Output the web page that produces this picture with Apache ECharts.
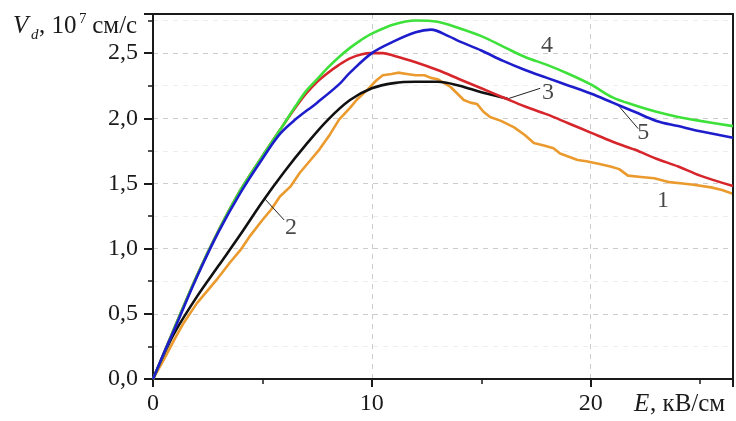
<!DOCTYPE html>
<html>
<head>
<meta charset="utf-8">
<script src="https://cdn.jsdelivr.net/npm/echarts@6/dist/echarts.min.js"></script>
<style>
html,body{margin:0;padding:0;background:#fff;}
#c{width:736px;height:421px;}
</style>
</head>
<body>
<div id="c"></div>
<script>
// ---- data (E in kV/cm, Vd in 1e7 cm/s) ----
const curve1 = [[0,0],[0.5,0.15],[1,0.31],[1.4,0.43],[2,0.58],[2.5,0.68],[2.9,0.76],[3.5,0.89],[4,0.99],[4.4,1.09],[5,1.22],[5.4,1.30],[5.8,1.40],[6.3,1.48],[6.7,1.58],[7.2,1.68],[7.6,1.76],[8.1,1.88],[8.5,1.99],[9,2.08],[9.3,2.14],[9.8,2.22],[10.2,2.29],[10.5,2.33],[10.9,2.34],[11.2,2.35],[11.6,2.34],[12,2.33],[12.4,2.33],[12.7,2.31],[13,2.30],[13.6,2.24],[14.2,2.14],[14.5,2.12],[14.8,2.11],[15.1,2.05],[15.4,2.01],[15.9,1.98],[16.5,1.93],[17,1.87],[17.4,1.81],[17.9,1.79],[18.3,1.77],[18.6,1.73],[19.4,1.68],[19.8,1.67],[20.4,1.65],[20.9,1.63],[21.3,1.61],[21.7,1.56],[22.3,1.55],[22.9,1.54],[23.6,1.51],[24.2,1.50],[24.7,1.49],[25.5,1.47],[26,1.45],[26.5,1.42]];
const curve2 = [[0,0],[0.5,0.19],[1,0.36],[2,0.63],[3,0.87],[4,1.11],[5,1.36],[6,1.59],[7,1.80],[8,1.99],[9,2.14],[10,2.23],[11,2.27],[12,2.28],[13,2.28],[14,2.25],[15,2.20],[16.2,2.15]];
const curve3 = [[0,0],[0.5,0.2],[1,0.40],[2,0.79],[3,1.14],[4,1.45],[5,1.71],[5.8,1.91],[6.5,2.08],[7,2.19],[7.5,2.28],[8,2.35],[8.5,2.41],[9,2.46],[9.5,2.49],[10,2.50],[10.5,2.50],[11,2.48],[12,2.43],[13,2.37],[14,2.30],[15,2.23],[16,2.16],[17,2.09],[18,2.03],[19,1.96],[20,1.89],[21,1.82],[22,1.76],[23,1.69],[24,1.63],[25,1.56],[26.5,1.48]];
const curve4 = [[0,0],[0.5,0.2],[1,0.40],[2,0.79],[3,1.14],[4,1.45],[5,1.71],[5.8,1.91],[6.5,2.09],[7,2.21],[7.5,2.30],[8,2.39],[8.5,2.47],[9,2.54],[9.5,2.60],[10,2.65],[11,2.72],[12,2.75],[13,2.74],[14,2.69],[15,2.63],[16,2.55],[17,2.47],[18,2.41],[19,2.34],[20,2.26],[21,2.16],[22,2.10],[23,2.05],[24,2.01],[25,1.98],[26.5,1.94]];
const curve5 = [[0,0],[0.5,0.2],[1,0.39],[2,0.78],[3,1.13],[4,1.43],[5,1.69],[5.8,1.88],[6.5,1.99],[7.5,2.12],[8.5,2.26],[9,2.35],[10,2.50],[11,2.59],[12,2.66],[12.7,2.68],[13.5,2.63],[14,2.59],[15,2.52],[16,2.44],[17,2.37],[18,2.31],[19,2.25],[20,2.19],[21,2.12],[22,2.05],[23,1.98],[24,1.94],[25,1.90],[26.5,1.85]];

const seriesNames = ['1','2','3','4','5'];
const seriesColors = ['#eb9a2e','#111111','#d6262c','#3ee03a','#1d1dcc'];

// curve number labels [E, V] and leader lines
const labelPos = {'1':[23.3,1.37],'2':[6.3,1.16],'3':[18.05,2.20],'4':[18.0,2.56],'5':[22.4,1.89]};
const leaders = [[[5.12,1.38],[5.99,1.22]],[[16.22,2.15],[17.69,2.23]],[[21.25,2.10],[22.17,1.92]]];

const xMin = 0, xMax = 26.5, xMajor = 10, xMinor = 5;
const yMin = 0, yMax = 2.8, yMajor = 0.5, yMinor = 0.25;

const FONT = '"Liberation Serif","DejaVu Serif",serif';

const chart = echarts.init(document.getElementById('c'), null, {renderer:'canvas'});

const curves = [curve1, curve2, curve3, curve4, curve5];

const series = curves.map((c, i) => ({
  type:'line',
  name: seriesNames[i],
  data: c,
  xAxisIndex:0, yAxisIndex:0,
  showSymbol:false,
  smooth: i === 0 ? false : 0.35,
  lineStyle:{color:seriesColors[i], width:2.6},
  z: 3 + i,
  silent:true
}));

// annotation series
series.push({
  type:'scatter',
  xAxisIndex:0, yAxisIndex:0,
  data: Object.keys(labelPos).map(k => ({value:labelPos[k], name:k})),
  symbolSize:0,
  label:{show:true, position:'inside', formatter: p => p.name,
    fontFamily:FONT, fontSize:24, color:'#1a1a1a'},
  z:10, silent:true
});
series.push({
  type:'line',
  xAxisIndex:0, yAxisIndex:0,
  data:[],
  markLine:{
    silent:true, symbol:['none','none'], animation:false,
    lineStyle:{color:'#222', width:1, type:'solid'},
    label:{show:false},
    data: leaders.map(l => [{coord:l[0]},{coord:l[1]}])
  },
  z:10
});

const isMult = (v, m) => Math.abs(v/m - Math.round(v/m)) < 1e-6;
const frameAxis = pos => ({
  type:'value', position:pos, gridIndex:0,
  axisLine:{show:true, onZero:false, lineStyle:{color:'#1a1a1a', width:2}},
  axisTick:{show:false}, axisLabel:{show:false}, splitLine:{show:false}, z:5
});

chart.setOption({
  animation:false,
  backgroundColor:'#fff',
  grid:{left:153, top:14, width:580, height:365, show:false},
  xAxis:[{
    type:'value', min:xMin, max:xMax, interval:xMajor, position:'bottom',
    axisLine:{show:true, onZero:false, lineStyle:{color:'#1a1a1a', width:2}},
    axisTick:{show:true, inside:false, length:8, lineStyle:{color:'#1a1a1a', width:2}},
    axisLabel:{margin:13, fontFamily:FONT, fontSize:24, color:'#1a1a1a',
      formatter: v => isMult(v, xMajor) ? String(v) : ''},
    splitLine:{show:true, lineStyle:{color:'#cccccc', type:[5,5], width:1}},
    z:2
  },{
    type:'value', min:xMin, max:xMax, interval:xMinor, position:'bottom', gridIndex:0,
    axisLine:{show:false},
    axisTick:{show:true, length:5, lineStyle:{color:'#1a1a1a', width:1.5}},
    axisLabel:{show:false},
    splitLine:{show:false}
  }, Object.assign(frameAxis('top'), {min:xMin, max:xMax})],
  yAxis:[{
    type:'value', min:yMin, max:yMax, interval:yMajor, position:'left',
    axisLine:{show:true, onZero:false, lineStyle:{color:'#1a1a1a', width:2}},
    axisTick:{show:true, length:9, lineStyle:{color:'#1a1a1a', width:2}},
    axisLabel:{margin:15, fontFamily:FONT, fontSize:24, color:'#1a1a1a',
      formatter: v => (isMult(v, yMajor) && v <= 2.5 + 1e-9) ? v.toFixed(1).replace('.', ',') : ''},
    splitLine:{show:true, lineStyle:{color:'#cccccc', type:[5,5], width:1}},
    z:2
  },{
    type:'value', min:yMin, max:yMax, interval:yMinor, position:'left', gridIndex:0,
    axisLine:{show:false},
    axisTick:{show:true, length:5, lineStyle:{color:'#1a1a1a', width:1.5}},
    axisLabel:{show:false},
    splitLine:{show:true, lineStyle:{color:'#ededed', type:[5,5], width:1}}
  }, Object.assign(frameAxis('right'), {min:yMin, max:yMax})],
  graphic:[
    {type:'text', left:13, top:14, style:{text:'V', font:'italic 25px "Liberation Serif"', fill:'#1a1a1a'}},
    {type:'text', left:31, top:28, style:{text:'d', font:'italic 15px "Liberation Serif"', fill:'#1a1a1a'}},
    {type:'text', left:39, top:14, style:{text:', 10', font:'25px "Liberation Serif"', fill:'#1a1a1a'}},
    {type:'text', left:79, top:12, style:{text:'7', font:'15px "Liberation Serif"', fill:'#1a1a1a'}},
    {type:'text', left:86, top:14, style:{text:' см/с', font:'25px "Liberation Serif"', fill:'#1a1a1a'}},
    {type:'text', left:634, top:392, style:{text:'E', font:'italic 25px "Liberation Serif"', fill:'#1a1a1a'}},
    {type:'text', left:650, top:392, style:{text:', кВ/см', font:'25px "Liberation Serif"', fill:'#1a1a1a'}}
  ],
  series: series
});
</script>
</body>
</html>
